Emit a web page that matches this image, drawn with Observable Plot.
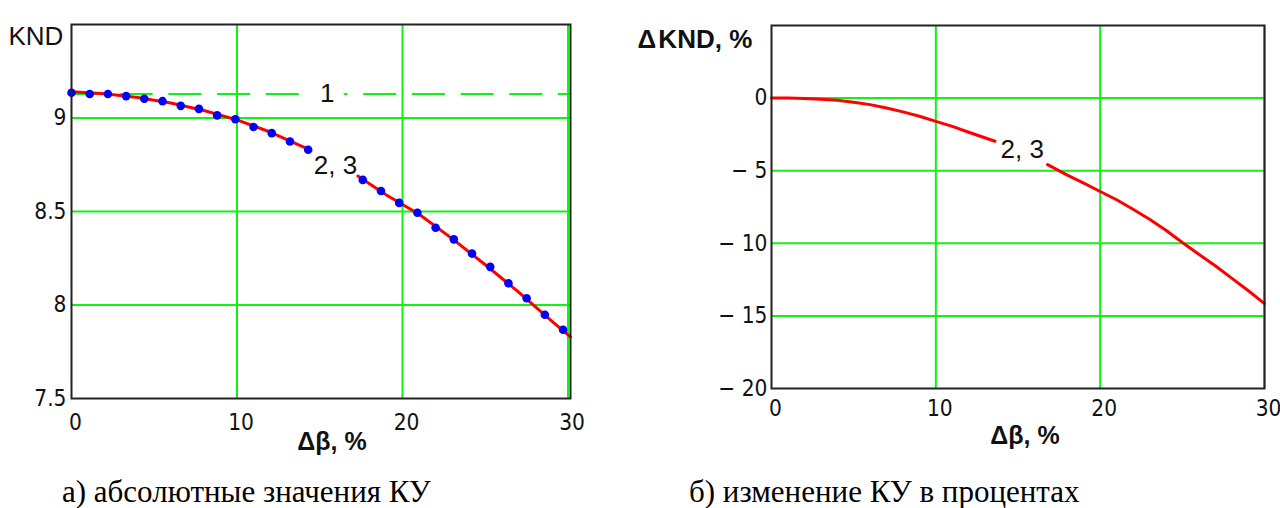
<!DOCTYPE html>
<html>
<head>
<meta charset="utf-8">
<script src="https://cdn.jsdelivr.net/npm/d3@7"></script>
<script src="https://cdn.jsdelivr.net/npm/@observablehq/plot@0.6"></script>
<style>
  html, body { margin: 0; padding: 0; background: #fff; }
  #wrap { position: relative; width: 1280px; height: 508px; overflow: hidden; background: #fff; }
  .panel { position: absolute; top: 0; }
  .cap { position: absolute; top: 476px; font-family: "Liberation Serif", "Times New Roman", serif;
         font-size: 31px; line-height: 31px; white-space: nowrap; color: #000; }
</style>
</head>
<body>
<div id="wrap">
  <div id="left" class="panel" style="left:0px"></div>
  <div id="right" class="panel" style="left:640px"></div>
  <div class="cap" style="left:62px">а) абсолютные значения КУ</div>
  <div class="cap" style="left:689px">б) изменение КУ в процентах</div>
</div>
<script>
// ---- data ----
// (a) blue dots: KND vs Δβ, %
const dotX   = [0, 1.1, 2.2, 3.3, 4.4, 5.5, 6.6, 7.7, 8.8, 9.9, 11, 12.1, 13.2, 14.3,
                17.6, 18.7, 19.8, 20.9, 22, 23.1, 24.2, 25.3, 26.4, 27.5, 28.6, 29.7];
const dotKND = [9.135, 9.128, 9.128, 9.117, 9.103, 9.09, 9.065, 9.049, 9.014, 8.993, 8.952, 8.919, 8.874, 8.830,
                8.669, 8.610, 8.546, 8.493, 8.413, 8.351, 8.275, 8.204, 8.116, 8.036, 7.948, 7.868];
// (a) red curve (null = gap behind the "2, 3" label)
const curveX   = [0, 2, 4, 6, 8, 10, 12, 14.4, 15.5, 17.3, 19, 21, 23, 25, 27, 29, 30.15];
const curveKND = [9.14, 9.13, 9.11, 9.08, 9.04, 8.99, 8.925, 8.83, null, 8.69, 8.59, 8.485, 8.355, 8.215, 8.07, 7.915, 7.83];
// (a) dashed level, curve 1
const level1 = [9.128];
// (б) red curve ΔKND, %
const rightX     = [0, 1, 2, 3, 4, 5, 6, 7, 8, 9, 10, 11, 12, 13.6, 15, 16.8, 18, 19, 20, 21, 22, 23, 24, 25, 26, 27, 28, 29, 30];
const rightDelta = [0, 0, -0.02, -0.08, -0.15, -0.28, -0.45, -0.68, -0.95, -1.25, -1.6, -1.95, -2.35, -2.97, null,
                    -4.58, -5.3, -5.85, -6.43, -7.0, -7.65, -8.35, -9.1, -9.95, -10.75, -11.55, -12.4, -13.25, -14.15];
// ticks / labels
const xTicks       = [0, 10, 20, 30];
const gridXTicks   = [10, 20, 30];
const leftYTicks   = [7.5, 8, 8.5, 9];
const leftGridY    = [8, 8.5, 9];
const rightYTicks  = [-20, -15, -10, -5, 0];
const rightGridY   = [-15, -10, -5, 0];
const leftLabels   = [{t: "2, 3", x: 15.95, y: 8.743}];
const leftLevelLbl = [{t: "1", x: 15.45, y: 9.128}];
const rightLabels  = [{t: "2, 3", x: 15.26, y: -3.53}];

// ---- styling ----
const GREEN = "#14f014";
const tickFont = '"Liberation Sans Narrow", "DejaVu Sans Condensed", "Liberation Sans", sans-serif';
const sans = '"Liberation Sans", Arial, sans-serif';
const baseStyle = {fontFamily: tickFont, fontSize: "22.5px", color: "#111", background: "transparent", overflow: "visible"};

const dots = dotX.map((x, i) => ({x, y: dotKND[i]}));
const curve = curveX.map((x, i) => ({x, y: curveKND[i]}));
const rcurve = rightX.map((x, i) => ({x, y: rightDelta[i]}));

const left = Plot.plot({
  width: 640, height: 465,
  marginLeft: 71, marginRight: 70, marginTop: 24, marginBottom: 67,
  x: {domain: [0, 30.15]},
  y: {domain: [7.5, 9.5]},
  style: baseStyle,
  marks: [
    Plot.gridX(gridXTicks, {stroke: GREEN, strokeOpacity: 1, strokeWidth: 2}),
    Plot.gridY(leftGridY, {stroke: GREEN, strokeOpacity: 1, strokeWidth: 2}),
    Plot.ruleY(level1, {stroke: GREEN, strokeWidth: 2, strokeDasharray: "33,15.7"}),
    Plot.line(curve, {x: "x", y: "y", stroke: "#ff0000", strokeWidth: 3}),
    Plot.dot(dots, {x: "x", y: "y", r: 4.3, fill: "#0000ff", stroke: "none"}),
    Plot.text(leftLevelLbl, {x: "x", y: "y", text: "t", fontFamily: sans, fontSize: 26, fill: "#111",
      stroke: "white", strokeWidth: 24, strokeLinejoin: "round"}),
    Plot.text(leftLabels, {x: "x", y: "y", text: "t", fontFamily: sans, fontSize: 26, fill: "#111"}),
    Plot.frame({stroke: "#222", strokeWidth: 2}),
    Plot.axisX({ticks: xTicks, tickSize: 0, tickPadding: 16, dx: 4, label: null, tickFormat: d => String(d)}),
    Plot.axisY({ticks: leftYTicks, tickSize: 0, tickPadding: 5, label: null, tickFormat: d => String(d)}),
    Plot.text(["KND"], {frameAnchor: "top-left", textAnchor: "start", dx: -63, dy: 2, fontFamily: sans, fontSize: 26, fill: "#111"}),
    Plot.text(["Δβ, %"], {frameAnchor: "bottom", textAnchor: "middle", dx: 11, dy: 51, fontFamily: sans, fontSize: 25, fontWeight: "bold", fill: "#111"})
  ]
});
document.getElementById("left").appendChild(left);

const right = Plot.plot({
  width: 640, height: 465,
  marginLeft: 131, marginRight: 16, marginTop: 25, marginBottom: 77,
  x: {domain: [0, 30]},
  y: {domain: [-20, 5]},
  style: baseStyle,
  marks: [
    Plot.gridX(gridXTicks, {stroke: GREEN, strokeOpacity: 1, strokeWidth: 2}),
    Plot.gridY(rightGridY, {stroke: GREEN, strokeOpacity: 1, strokeWidth: 2}),
    Plot.line(rcurve, {x: "x", y: "y", stroke: "#ff0000", strokeWidth: 3}),
    Plot.text(rightLabels, {x: "x", y: "y", text: "t", fontFamily: sans, fontSize: 26, fill: "#111"}),
    Plot.frame({stroke: "#222", strokeWidth: 2}),
    Plot.axisX({ticks: xTicks, tickSize: 0, tickPadding: 12, dx: 4, label: null, tickFormat: d => String(d)}),
    Plot.axisY({ticks: rightYTicks, tickSize: 0, tickPadding: 4, label: null,
      tickFormat: d => d < 0 ? "\u2212 " + Math.abs(d) : String(d)}),
    Plot.text(["Δ\u200aKND, %"], {frameAnchor: "top-left", textAnchor: "start", dx: -134, dy: 4, fontFamily: sans, fontSize: 26, fontWeight: "bold", fill: "#111"}),
    Plot.text(["Δβ, %"], {frameAnchor: "bottom", textAnchor: "middle", dx: 7, dy: 55, fontFamily: sans, fontSize: 25, fontWeight: "bold", fill: "#111"})
  ]
});
document.getElementById("right").appendChild(right);
</script>
</body>
</html>
